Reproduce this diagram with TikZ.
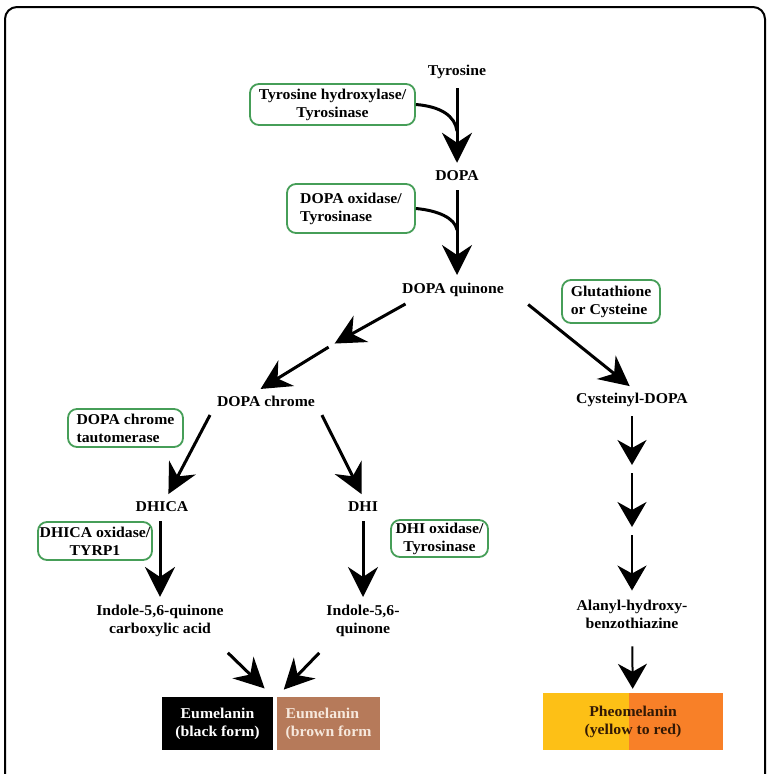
\documentclass[tikz,border=0pt]{standalone}
\usepackage{fontspec}
\setmainfont[FakeStretch=1.05]{Liberation Serif}
\usetikzlibrary{arrows.meta, positioning}
\definecolor{enzgreen}{RGB}{70,158,88}
\definecolor{eubrown}{RGB}{182,122,90}
\definecolor{eutext}{RGB}{246,232,220}
\definecolor{pheoyellow}{RGB}{253,192,22}
\definecolor{pheoorange}{RGB}{248,128,40}
\definecolor{pheotext}{RGB}{50,25,5}
\newcommand{\labelfont}{\fontsize{15}{18}\selectfont\bfseries}
\tikzset{
    compound/.style={font=\labelfont, align=center, inner sep=5pt},
    enzyme/.style={rectangle, draw=enzgreen, line width=1.8pt, rounded corners=9pt, font=\labelfont, inner sep=0pt},
    pigment/.style={rectangle, font=\labelfont, inner sep=0pt, minimum height=53pt},
    flow/.style={line width=3pt, -{Stealth[length=30pt, width=30pt, inset=10pt]}, shorten <=4pt, shorten >=3pt},
    sideflow/.style={line width=2pt, -{Stealth[length=25pt, width=29pt, inset=8pt]}, shorten <=4pt, shorten >=4pt},
    hookline/.style={line width=3pt},
}
\begin{document}
\begin{tikzpicture}[x=1pt, y=-1pt]
    \useasboundingbox (0,0) rectangle (770,774);
    \draw[line width=2pt, rounded corners=12pt] (5,774) -- (5,7) -- (765,7) -- (765,774);

    \node[compound] (tyrosine)  at (457,72)  {Tyrosine};
    \node[compound] (dopa)      at (457,176) {DOPA};
    \node[compound] (dquinone)  at (453,290) {DOPA quinone};
    \node[compound] (dchrome)   at (266,401) {DOPA chrome};
    \node[compound] (cysdopa)   at (632,400) {Cysteinyl-DOPA};
    \node[compound] (dhica)     at (162,507) {DHICA};
    \node[compound] (dhi)       at (363,507) {DHI};
    \node[compound] (indoleca)  at (160,621) {Indole-5,6-quinone\\carboxylic acid};
    \node[compound] (indoleq)   at (363,621) {Indole-5,6-\\quinone};
    \node[compound] (alanyl)    at (632,614) {Alanyl-hydroxy-\\benzothiazine};

    \node[enzyme, minimum width=165pt, minimum height=41pt, align=center] (tyrhydrox)   at (332.5,104.5) {Tyrosine hydroxylase/\\Tyrosinase};
    \node[enzyme, minimum width=128pt, minimum height=49pt, align=left]   (dopaox)      at (351,208.5)   {DOPA oxidase/\\Tyrosinase};
    \node[enzyme, minimum width=98pt,  minimum height=43pt, align=left]   (glut)        at (611,301.5)   {Glutathione\\or Cysteine};
    \node[enzyme, minimum width=115pt, minimum height=38pt, align=left]   (tautomerase) at (125.5,428)   {DOPA chrome\\tautomerase};
    \node[enzyme, minimum width=114pt, minimum height=38pt, align=center] (dhicaox)     at (95,541)      {DHICA oxidase/\\TYRP1};
    \node[enzyme, minimum width=97pt,  minimum height=37pt, align=center] (dhiox)       at (439.5,538.5) {DHI oxidase/\\Tyrosinase};

    \node[pigment, fill=black, text=white, minimum width=111pt, align=center] (eublack) at (217.5,723.5) {Eumelanin\\(black form)};
    \node[pigment, fill=eubrown, text=eutext, minimum width=103pt, align=left] (eubrown) at (328.5,723.5) {Eumelanin\\(brown form};
    \node[pigment, minimum width=180pt, minimum height=57pt, text=pheotext, align=center,
        path picture={
            \fill[pheoyellow] (path picture bounding box.north west) rectangle ([xshift=-4pt]path picture bounding box.south);
            \fill[pheoorange] ([xshift=-4pt]path picture bounding box.north) rectangle (path picture bounding box.south east);
        }] (pheo) at (633,721.5) {Pheomelanin\\(yellow to red)};

    \coordinate (tyrjoin)    at (457,131);
    \coordinate (dopajoin)   at (457,230);
    \coordinate (chromebend) at (332,345);
    \coordinate (cysmid1)    at (632,469);
    \coordinate (cysmid2)    at (632,531);

    \draw[flow] (tyrosine) -- (dopa);
    \draw[hookline] (tyrhydrox.east) .. controls +(25,2) and +(-2,-15) .. (tyrjoin);
    \draw[flow] (dopa) -- (dopa |- dquinone.north);
    \draw[hookline] (dopaox.east) .. controls +(22,2) and +(-2,-12) .. (dopajoin);
    \draw[flow] ([shift={(12,0)}]dquinone.south west) -- (chromebend);
    \draw[flow] (chromebend) -- ([shift={(-8,0)}]dchrome.north);
    \draw[flow] ([shift={(16,0)}]dquinone.south east) -- (cysdopa.north);
    \draw[flow] (dchrome.south west) -- ([shift={(5,0)}]dhica.north);
    \draw[flow] (dchrome.south east) -- (dhi.north);
    \draw[flow] (dhica.south -| indoleca.north) -- (indoleca.north);
    \draw[flow] (dhi) -- (indoleq);
    \draw[flow, shorten >=12pt] ([shift={(65,8)}]indoleca.south) -- (eublack.north east);
    \draw[flow, shorten >=10pt] ([shift={(-41,8)}]indoleq.south) -- (eubrown.north west);
    \draw[sideflow] (cysdopa) -- (cysmid1);
    \draw[sideflow] (cysmid1) -- (cysmid2);
    \draw[sideflow] (cysmid2) -- (alanyl);
    \draw[sideflow, shorten <=13pt] (alanyl) -- (pheo);
\end{tikzpicture}
\end{document}
